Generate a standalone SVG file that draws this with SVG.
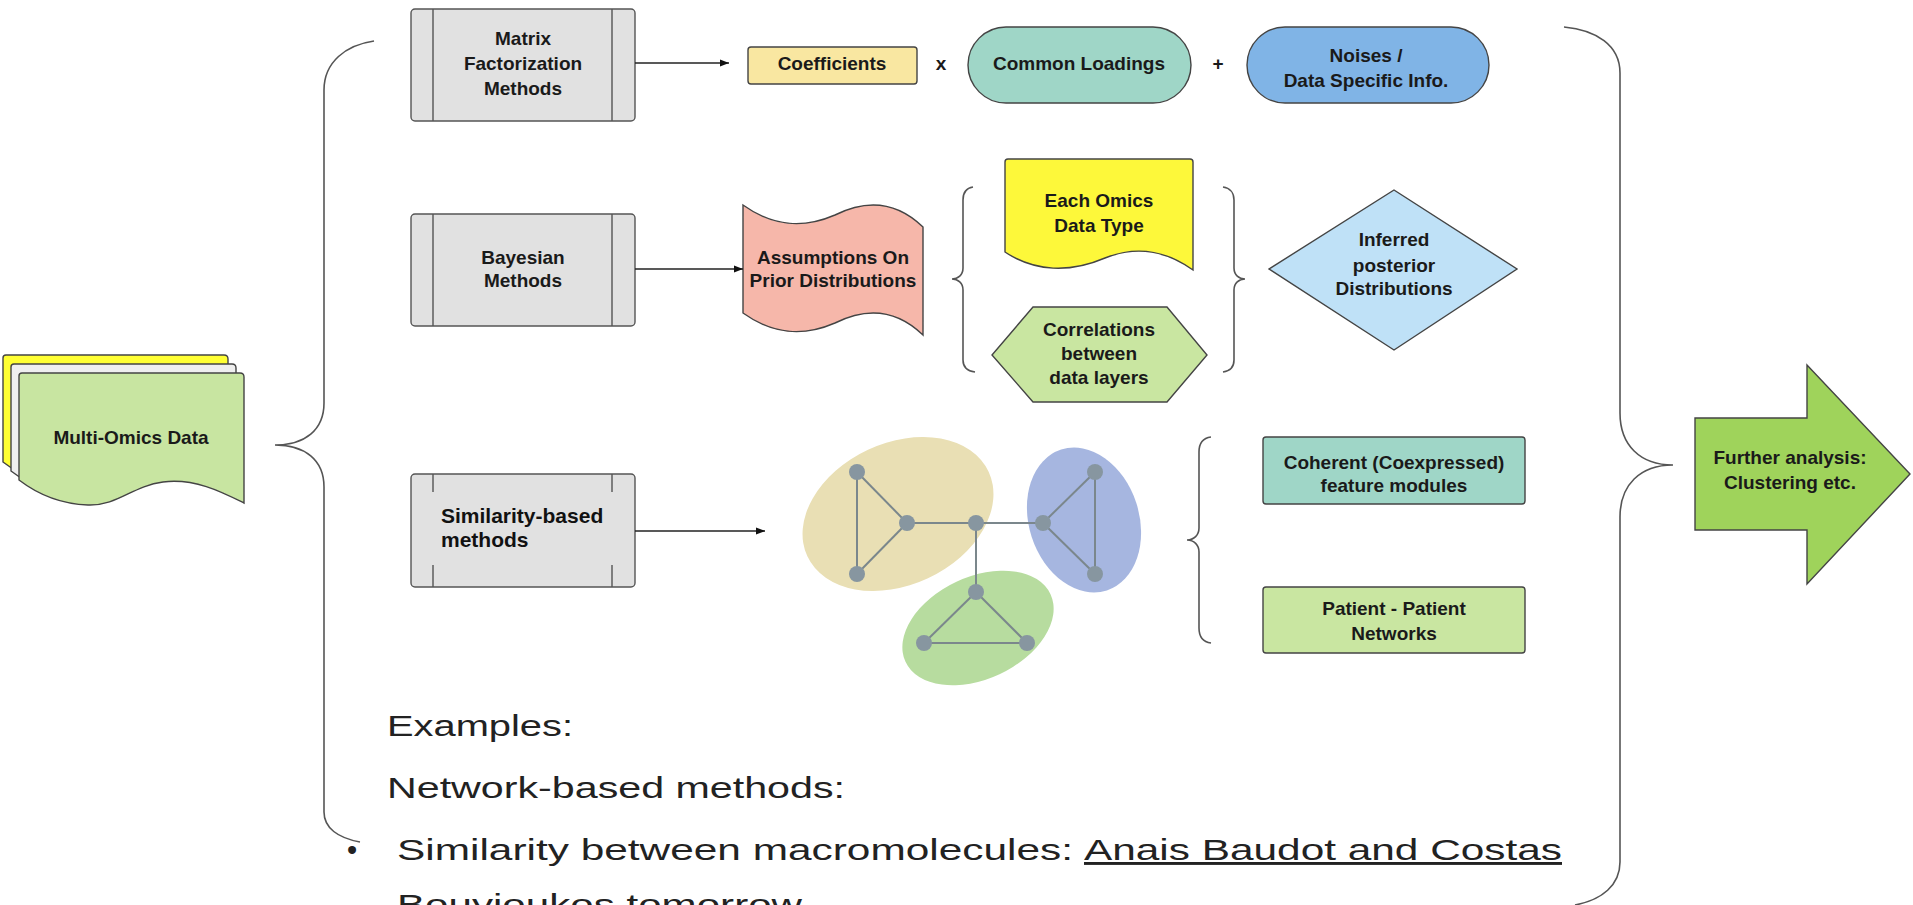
<svg xmlns="http://www.w3.org/2000/svg" width="1913" height="905" viewBox="0 0 1913 905">
  <defs>
    <marker id="arrow" viewBox="0 0 10 10" refX="10" refY="5" markerWidth="9" markerHeight="9" markerUnits="userSpaceOnUse" orient="auto">
      <path d="M0,1 L10,5 L0,9 Z" fill="#111"/>
    </marker>
    <path id="page" d="M19,376 Q19,373 22,373 H240 Q244,373 244,377 V503 C222,492 195,478 163,482 C132,486 118,506 88,505 C60,504 36,493 19,480 Z"/>
  </defs>
  <style>
    .lbl { font-family: "Liberation Sans", Arial, sans-serif; font-weight: bold; font-size: 19px; fill: #1a1a1a; text-anchor: middle; }
    .shape { stroke: #444; stroke-width: 1.4; }
    .method { fill: #e1e1e1; stroke: #555; stroke-width: 1.4; }
    .bar { stroke: #555; stroke-width: 1.4; fill: none; }
    .brace { fill: none; stroke: #555; stroke-width: 1.6; }
    .conn { fill: none; stroke: #222; stroke-width: 1.4; }
    .edge { stroke: #7b878c; stroke-width: 2; }
    .vtx { fill: #8796a0; }
    .body { font-family: "Liberation Sans", Arial, sans-serif; font-size: 29px; fill: #222; }
  </style>
  <rect width="1913" height="905" fill="#fff"/>

  <!-- input data stack -->
  <g id="multi-omics">
    <use href="#page" transform="translate(-16,-18)" fill="#ffff33" class="shape"/>
    <use href="#page" transform="translate(-8,-9)" fill="#efefef" class="shape"/>
    <use href="#page" fill="#c8e5a1" class="shape"/>
    <text class="lbl" x="131" y="444">Multi-Omics Data</text>
  </g>

  <!-- braces -->
  <g id="braces">
    <path class="brace" d="M374,41 C346,45 324,62 324,90 V403 C324,430 305,445 275,445 C305,445 324,460 324,487 V812 C324,828 338,838 360,842"/>
    <path class="brace" d="M1564,27 C1596,30 1620,45 1620,73 V413 C1620,445 1640,465 1673,465 C1640,465 1620,485 1620,517 V862 C1620,885 1602,900 1575,905"/>
    <path class="brace" d="M973,187 C966,188 963,193 963,200 V268 C963,275 958,279 952,279 C958,279 963,283 963,290 V360 C963,367 967,371 975,372"/>
    <path class="brace" d="M1223,187 C1230,188 1234,193 1234,200 V268 C1234,275 1239,279 1245,279 C1239,279 1234,283 1234,290 V360 C1234,367 1230,371 1223,372"/>
    <path class="brace" d="M1211,437 C1203,438 1199,443 1199,452 V528 C1199,535 1194,540 1187,540 C1194,540 1199,545 1199,552 V628 C1199,637 1203,642 1211,643"/>
  </g>

  <!-- method blocks -->
  <g id="matrix-factorization">
    <rect class="method" x="411" y="9" width="224" height="112" rx="4"/>
    <path class="bar" d="M433,9 V121 M612,9 V121"/>
    <text class="lbl" x="523" y="45">Matrix</text>
    <text class="lbl" x="523" y="70">Factorization</text>
    <text class="lbl" x="523" y="95">Methods</text>
  </g>
  <g id="bayesian">
    <rect class="method" x="411" y="214" width="224" height="112" rx="4"/>
    <path class="bar" d="M433,214 V326 M612,214 V326"/>
    <text class="lbl" x="523" y="264">Bayesian</text>
    <text class="lbl" x="523" y="287">Methods</text>
  </g>
  <g id="similarity">
    <rect class="method" x="411" y="474" width="224" height="113" rx="4"/>
    <path class="bar" d="M433,474 V492 M612,474 V492 M433,565 V587 M612,565 V587"/>
    <text x="441" y="523" font-family="Liberation Sans, Arial, sans-serif" font-weight="bold" font-size="21" fill="#111">Similarity-based</text>
    <text x="441" y="547" font-family="Liberation Sans, Arial, sans-serif" font-weight="bold" font-size="21" fill="#111">methods</text>
  </g>

  <!-- matrix factorization terms -->
  <g id="coefficients">
    <rect class="shape" x="748" y="47" width="169" height="37" rx="3" fill="#f9e7a1"/>
    <text class="lbl" x="832" y="70">Coefficients</text>
  </g>
  <g id="times-sign"><text class="lbl" x="941" y="70">x</text></g>
  <g id="common-loadings">
    <rect class="shape" x="968" y="27" width="223" height="76" rx="38" fill="#9fd6c7"/>
    <text class="lbl" x="1079" y="70">Common Loadings</text>
  </g>
  <g id="plus-sign"><text class="lbl" x="1218" y="70">+</text></g>
  <g id="noises">
    <rect class="shape" x="1247" y="27" width="242" height="76" rx="38" fill="#80b4e6"/>
    <text class="lbl" x="1366" y="62">Noises /</text>
    <text class="lbl" x="1366" y="87">Data Specific Info.</text>
  </g>

  <!-- bayesian terms -->
  <g id="assumptions">
    <path class="shape" fill="#f6b7aa" d="M743,205 C775,228 805,228 835,215 C865,200 895,200 923,227 V335 C895,308 865,308 835,323 C805,336 775,336 743,313 Z"/>
    <text class="lbl" x="833" y="264">Assumptions On</text>
    <text class="lbl" x="833" y="287">Prior Distributions</text>
  </g>
  <g id="each-omics">
    <path class="shape" fill="#fdf83a" d="M1005,162 Q1005,159 1008,159 H1190 Q1193,159 1193,162 V270 C1165,250 1135,246 1105,258 C1070,273 1035,272 1005,252 Z"/>
    <text class="lbl" x="1099" y="207">Each Omics</text>
    <text class="lbl" x="1099" y="232">Data Type</text>
  </g>
  <g id="correlations">
    <polygon class="shape" fill="#c9e6a1" points="1033,307 1167,307 1207,355 1167,402 1033,402 992,355"/>
    <text class="lbl" x="1099" y="336">Correlations</text>
    <text class="lbl" x="1099" y="360">between</text>
    <text class="lbl" x="1099" y="384">data layers</text>
  </g>
  <g id="posterior">
    <polygon class="shape" fill="#bfe1f7" points="1394,190 1517,269 1394,350 1269,269"/>
    <text class="lbl" x="1394" y="246">Inferred</text>
    <text class="lbl" x="1394" y="272">posterior</text>
    <text class="lbl" x="1394" y="295">Distributions</text>
  </g>

  <!-- similarity network -->
  <g id="network">
    <ellipse cx="898" cy="514" rx="100" ry="71" transform="rotate(-25 898 514)" fill="#e9dfb4"/>
    <ellipse cx="1084" cy="520" rx="55" ry="74" transform="rotate(-18 1084 520)" fill="#a6b6e0"/>
    <ellipse cx="978" cy="628" rx="80" ry="51" transform="rotate(-25 978 628)" fill="#b7dc9f"/>
    <line class="edge" x1="857" y1="472" x2="857" y2="574"/>
    <line class="edge" x1="857" y1="472" x2="907" y2="523"/>
    <line class="edge" x1="857" y1="574" x2="907" y2="523"/>
    <line class="edge" x1="907" y1="523" x2="976" y2="523"/>
    <line class="edge" x1="976" y1="523" x2="1043" y2="523"/>
    <line class="edge" x1="1043" y1="523" x2="1095" y2="472"/>
    <line class="edge" x1="1043" y1="523" x2="1095" y2="574"/>
    <line class="edge" x1="1095" y1="472" x2="1095" y2="574"/>
    <line class="edge" x1="976" y1="523" x2="976" y2="592"/>
    <line class="edge" x1="976" y1="592" x2="924" y2="643"/>
    <line class="edge" x1="976" y1="592" x2="1027" y2="643"/>
    <line class="edge" x1="924" y1="643" x2="1027" y2="643"/>
    <circle class="vtx" cx="857" cy="472" r="8"/>
    <circle class="vtx" cx="857" cy="574" r="8"/>
    <circle class="vtx" cx="907" cy="523" r="8"/>
    <circle class="vtx" cx="976" cy="523" r="8"/>
    <circle class="vtx" cx="1043" cy="523" r="8"/>
    <circle class="vtx" cx="1095" cy="472" r="8"/>
    <circle class="vtx" cx="1095" cy="574" r="8"/>
    <circle class="vtx" cx="976" cy="592" r="8"/>
    <circle class="vtx" cx="924" cy="643" r="8"/>
    <circle class="vtx" cx="1027" cy="643" r="8"/>
  </g>
  <g id="coherent-modules">
    <rect class="shape" x="1263" y="437" width="262" height="67" rx="3" fill="#9fd6c7"/>
    <text class="lbl" x="1394" y="469">Coherent (Coexpressed)</text>
    <text class="lbl" x="1394" y="492">feature modules</text>
  </g>
  <g id="patient-networks">
    <rect class="shape" x="1263" y="587" width="262" height="66" rx="3" fill="#c9e6a1"/>
    <text class="lbl" x="1394" y="615">Patient - Patient</text>
    <text class="lbl" x="1394" y="640">Networks</text>
  </g>

  <!-- output -->
  <g id="further-analysis">
    <path class="shape" fill="#9fd35b" d="M1695,418 H1807 V365 L1910,474 L1807,584 V530 H1695 Z"/>
    <text class="lbl" x="1790" y="464">Further analysis:</text>
    <text class="lbl" x="1790" y="489">Clustering etc.</text>
  </g>

  <g id="connectors">
    <line class="conn" x1="635" y1="63" x2="729" y2="63" marker-end="url(#arrow)"/>
    <line class="conn" x1="635" y1="269" x2="743" y2="269" marker-end="url(#arrow)"/>
    <line class="conn" x1="635" y1="531" x2="765" y2="531" marker-end="url(#arrow)"/>
  </g>

  <!-- notes -->
  <g id="notes" class="body">
    <text x="387" y="736" textLength="186" lengthAdjust="spacingAndGlyphs">Examples:</text>
    <text x="387" y="798" textLength="458" lengthAdjust="spacingAndGlyphs">Network-based methods:</text>
    <text x="347" y="860">•</text>
    <text x="397" y="860" textLength="676" lengthAdjust="spacingAndGlyphs">Similarity between macromolecules:</text>
    <text x="1084" y="860" textLength="478" lengthAdjust="spacingAndGlyphs" text-decoration="underline">Anais Baudot and Costas</text>
    <text x="397" y="915" textLength="405" lengthAdjust="spacingAndGlyphs">Bouyioukos tomorrow</text>
  </g>
</svg>
